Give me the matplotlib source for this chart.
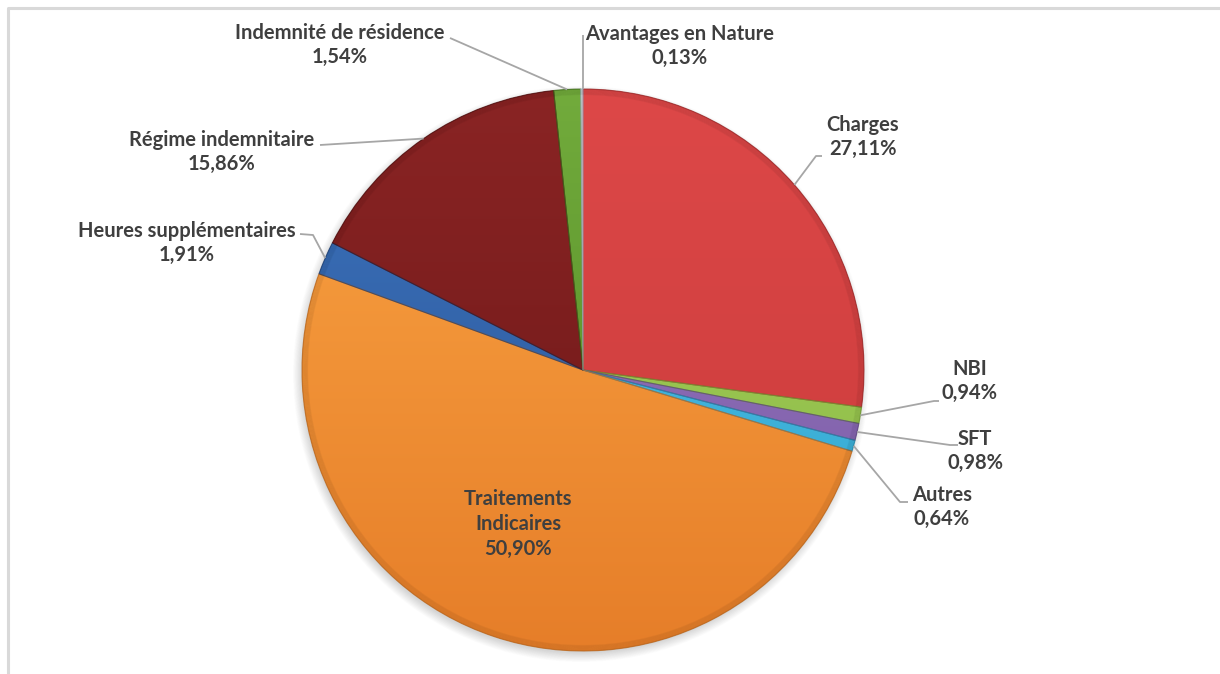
import numpy as np
import matplotlib
matplotlib.use("Agg")
import matplotlib.pyplot as plt
from matplotlib.colors import LinearSegmentedColormap
from matplotlib.patches import Circle, Wedge

# Breakdown of personnel costs (% of total)
categories = ["Charges", "NBI", "SFT", "Autres", "Traitements\nIndicaires",
              "Heures supplémentaires", "Régime indemnitaire",
              "Indemnité de résidence", "Avantages en Nature"]
shares = [27.11, 0.94, 0.98, 0.64, 50.90, 1.91, 15.86, 1.54, 0.13]

# gradient colours (top, bottom) per slice
top_colors = ["#DD4848", "#A8D35E", "#9A7BC4", "#55C6EA", "#FAA443",
              "#3C72BC", "#8A2424", "#72AB3C", "#DCE6F2"]
bottom_colors = ["#C93A3A", "#88B642", "#7858A2", "#2EA2CC", "#E67E29",
                 "#2A5596", "#6B1717", "#4E8723", "#C4D3E6"]
edge_colors = ["#9E2A2A", "#6E9A30", "#5E4482", "#2386A8", "#C06A20",
               "#1E3F72", "#4E1010", "#3C6A1A", "#A8B8CC"]

W, H = 1220, 674
fig = plt.figure(figsize=(W / 100, H / 100), dpi=100)
ax = fig.add_axes([0, 0, 1, 1])

def py(y):
    """Convert a top-down pixel row into the y-up data coordinate."""
    return H - y

cx, cy, R = 583, py(370), 281

# soft drop shadow beneath the pie
for i in range(14):
    ax.add_patch(Circle((cx - 2, cy - 4), R + 7 - i * 0.7, color="black",
                        alpha=0.012, lw=0, zorder=1))

wedges, _ = ax.pie(shares, colors=top_colors, startangle=90, counterclock=False,
                   center=(cx, cy), radius=R, frame=True,
                   wedgeprops=dict(linewidth=0, zorder=2))

grad = np.linspace(0, 1, 256)[:, None]
for w, c1, c2, ec in zip(wedges, top_colors, bottom_colors, edge_colors):
    cmap = LinearSegmentedColormap.from_list("g", [c1, c2])
    im = ax.imshow(grad, cmap=cmap, extent=(cx - R, cx + R, cy - R, cy + R),
                   origin="upper", aspect="auto", zorder=2, interpolation="bilinear")
    im.set_clip_path(w)
    ax.add_patch(Wedge(w.center, w.r, w.theta1, w.theta2, fill=False,
                       ec=ec, lw=0.8, zorder=3, alpha=0.7))

# bevelled rim
for k in range(7):
    ax.add_patch(Circle((cx, cy), R - k * 0.9, fill=False, ec="black",
                        alpha=0.045, lw=1.0, zorder=3))

# label text centres (pixel) and leader anchors
text_pos = [(863, 137), (970, 381), (975, 451), (942, 507), (518, 524),
            (187, 243), (222, 152), (340, 45), (680, 46)]
leaders = {
    0: [(822, 156), (816, 156)],
    1: [(939, 401), (934, 401)],
    2: [(958, 445), (950, 445)],
    3: [(908, 502), (900, 502)],
    5: [(300, 234), (313, 235)],
    6: [(320, 145)],
    7: [(450, 38)],
    8: [(583, 35)],
}

text_color = "#3F3F3F"
line_color = "#A6A6A6"
for i, (name, val, w) in enumerate(zip(categories, shares, wedges)):
    pct = f"{val:.2f}".replace(".", ",") + "%"
    tx, ty = text_pos[i]
    ax.text(tx, py(ty), f"{name}\n{pct}", ha="center", va="center",
            fontsize=14.5, fontweight="bold", color=text_color,
            family=["Lato", "DejaVu Sans"], linespacing=1.3, zorder=5)
    if i in leaders:
        mid = np.deg2rad((w.theta1 + w.theta2) / 2)
        ex, ey = cx + R * np.cos(mid), cy + R * np.sin(mid)
        pts = [(x, py(y)) for x, y in leaders[i]] + [(ex, ey)]
        if i == 8:
            pts = [(583, py(35)), (583, ey)]
        xs, ys = zip(*pts)
        ax.plot(xs, ys, color=line_color, lw=1.3, zorder=4, solid_capstyle="butt")

# chart area border
ax.plot([8, 8, W], [0, py(8), py(8)], color="#D9D9D9", lw=2.2, zorder=6)

ax.set_xlim(0, W)
ax.set_ylim(0, H)
ax.axis("off")
fig.savefig("out.png", dpi=100, facecolor="white")
